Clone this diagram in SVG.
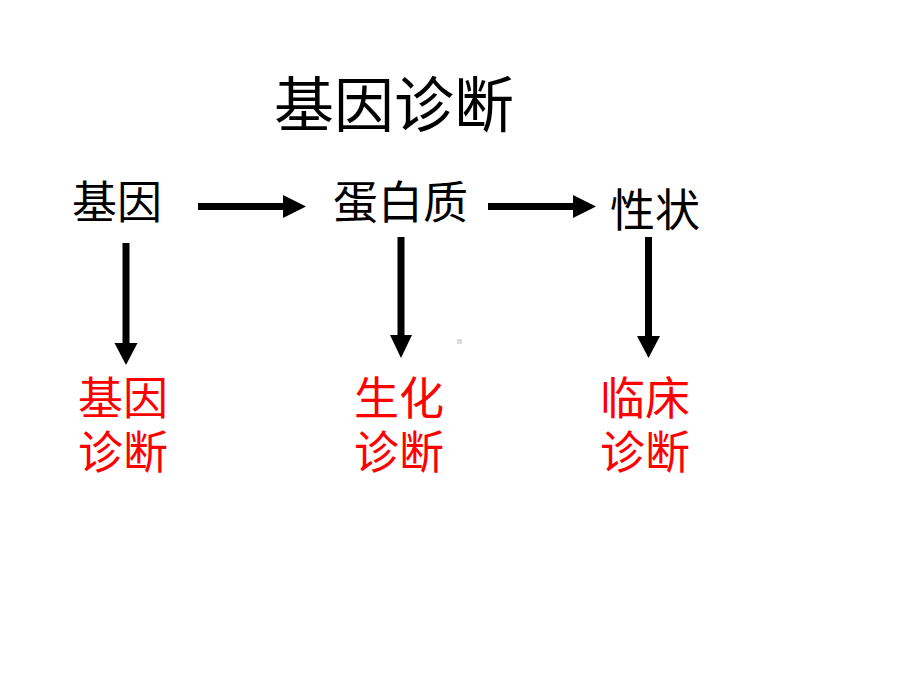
<svg xmlns="http://www.w3.org/2000/svg" width="920" height="690" viewBox="0 0 920 690">
<style>
text{font-family:"Noto Sans CJK SC","Noto Sans CJK TC",sans-serif;}
.title{font-size:60px;fill:#000;}
.lbl{font-size:45px;fill:#000;}
.red{font-size:45px;fill:#ff0000;}
.shaft{stroke:#000;stroke-width:7;fill:none;}
.head{fill:#000;}
</style>
<rect width="920" height="690" fill="#fff"/>
<g id="title"><text class="title" x="274" y="127">基因诊断</text></g>
<g id="node-gene"><text class="lbl" x="72" y="219">基因</text></g>
<g id="node-protein"><text class="lbl" x="333" y="219">蛋白质</text></g>
<g id="node-trait"><text class="lbl" x="610" y="227">性状</text></g>
<g id="node-gene-dx"><text class="red" x="78" y="415">基因<tspan x="78" y="469">诊断</tspan></text></g>
<g id="node-bio-dx"><text class="red" x="354" y="415">生化<tspan x="354" y="469">诊断</tspan></text></g>
<g id="node-clin-dx"><text class="red" x="600" y="415">临床<tspan x="600" y="469">诊断</tspan></text></g>
<g id="connectors">
<line class="shaft" x1="198" y1="206.5" x2="285" y2="206.5"/>
<polygon class="head" points="283,195 306,206.5 283,218"/>
<line class="shaft" x1="488" y1="206.5" x2="575" y2="206.5"/>
<polygon class="head" points="573,195 596,206.5 573,218"/>
<line class="shaft" x1="126" y1="243" x2="126" y2="345"/>
<polygon class="head" points="114.5,343 137.5,343 126,365"/>
<line class="shaft" x1="401" y1="237" x2="401" y2="337"/>
<polygon class="head" points="390,335 412,335 401,358"/>
<line class="shaft" x1="648.5" y1="237" x2="648.5" y2="338"/>
<polygon class="head" points="637,336 660,336 648.5,358"/>
</g>
<rect x="457" y="339" width="5" height="5" fill="#dcdcdc"/>
</svg>
